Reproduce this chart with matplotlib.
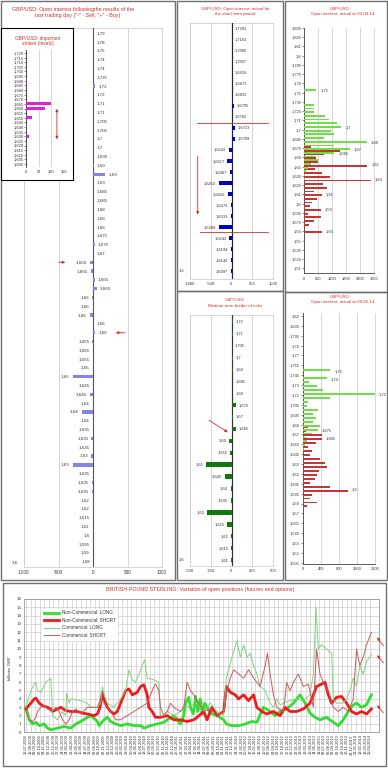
import matplotlib
matplotlib.use('Agg')
import matplotlib.pyplot as plt
from matplotlib.patches import Rectangle
import numpy as np
import pandas as pd

plt.rcParams['font.family'] = ['Liberation Sans', 'DejaVu Sans']
plt.rcParams['axes.unicode_minus'] = False

# ---------------- data ----------------
main_labels = ["1,79","1,78","1,75","1,74","1,74","1,735","1,72","1,72","1,71","1,71","1,705","1,705",
               "1,7","1,7","1,695","1,69","1,69","1,69","1,685","1,685","1,68","1,68","1,68","1,675",
               "1,675","1,67","1,665","1,665","1,665","1,665","1,66","1,66","1,66","1,66","1,66","1,655",
               "1,655","1,655","1,65","1,65","1,645","1,645","1,64","1,64","1,64","1,635","1,635","1,635",
               "1,63","1,63","1,625","1,625","1,625","1,62","1,62","1,615","1,61","1,6","1,595","1,59","1,58"]
main_vals = [3,3,3,3,3,5,35,4,3,3,3,3,3,4,3,15,180,3,3,3,3,3,3,3,30,3,-40,-25,30,55,-15,-3,-50,3,35,
             -10,-5,-5,-5,-295,-5,-50,-5,-165,-5,-5,-25,-5,-30,-295,-5,-15,-20,-5,-5,-3,-3,-3,-3,-3,-3]

inset_strikes = [1.720,1.715,1.710,1.705,1.700,1.695,1.690,1.685,1.680,1.675,1.670,1.665,1.660,
                 1.655,1.650,1.645,1.640,1.635,1.630,1.625,1.620,1.615,1.610,1.605,1.600]
inset_vals = [0,0,0,0,0,0,5,0,0,0,0,98,75,0,25,0,5,0,10,0,0,0,0,0,0]
inset_ticklabels = ["1,720","1,715","1,710","1,705","1,700","1,695","1,690","1,685","1,680","1,675",
                    "1,670","1,665","1,660","1,655","1,650","1,645","1,640","1,635","1,630","1,625",
                    "1,620","1,615","1,610","1,605","1,600"]

st_labels = ["1,7201","1,7103","1,7066","1,7007","1,6916","1,6873","1,6833","1,6795","1,6762","1,6733",
             "1,6709","1,6543","1,6517","1,6487","1,6453","1,6416","1,6376","1,6333","1,6288","1,6242",
             "1,6194","1,6146","1,6097"]
st_vals = [12,12,12,12,12,12,12,50,12,80,80,-55,-100,-30,-300,-90,-12,-12,-300,-50,-12,-12,-12]

mt_labels = ["1,72","1,71","1,705","1,7","1,69","1,685","1,68","1,675","1,67","1,665","1,66","1,655",
             "1,65","1,645","1,64","1,635","1,63","1,625","1,62","1,615","1,61"]
mt_vals = [15,15,10,15,15,12,12,55,15,50,-28,-15,-305,-80,-10,-8,-290,-49,-6,-6,-6]

oi1_strikes = [1.75,1.745,1.74,1.735,1.73,1.725,1.72,1.715,1.71,1.705,1.70,1.695,1.69,1.685,1.68,
               1.675,1.67,1.665,1.66,1.655,1.65,1.645,1.64,1.635,1.63,1.625,1.62,1.615,1.61,1.605,
               1.60,1.595,1.59,1.585,1.58,1.575,1.57,1.565,1.56]
oi1_calls = [530,0,0,0,430,430,430,900,1050,1400,1600,1150,1300,850,2700,1300,1950,1300,500,600,300,
             150,80,40,60,20,20,0,0,0,0,0,0,0,0,0,0,0,0]
oi1_puts = [0,0,0,0,0,0,0,0,0,0,0,0,0,0,0,320,1550,860,530,600,2720,450,780,1100,2850,800,1000,430,
            770,560,340,250,720,180,740,430,200,0,750]
oi1_ticklabels = ["1,835","1,825","1,81","1,8","1,785","1,775","1,76","1,75","1,735","1,725","1,71",
                  "1,7","1,685","1,675","1,66","1,65","1,635","1,625","1,61","1,6","1,585","1,575",
                  "1,56","1,55","1,535","1,525","1,51"]
oi1_lab_strikes = [1.75,1.70,1.68,1.67,1.665,1.65,1.63,1.61,1.59,1.56]
oi1_lab_text = ["1,75","1,7","1,68","1,67","1,665","1,65","1,63","1,61","1,59","1,56"]

oi2_strikes = [1.75,1.745,1.74,1.735,1.73,1.725,1.72,1.715,1.71,1.705,1.70,1.695,1.69,1.685,1.68,
               1.675,1.67,1.665,1.66,1.655,1.65,1.645,1.64,1.635,1.63,1.625,1.62,1.615,1.61,1.605,
               1.60,1.595,1.59,1.585,1.58]
oi2_calls = [607,0,533,140,310,460,1590,607,125,90,333,237,290,237,385,333,200,80,100,50,30,
             0,0,0,0,0,0,0,0,0,0,0,0,0,0]
oi2_puts = [0,0,0,0,0,0,0,0,0,0,0,0,0,0,120,80,420,420,300,120,200,160,380,500,530,350,310,270,160,
            600,1000,200,160,310,100]
oi2_ticklabels = ["1,82","1,805","1,795","1,78","1,77","1,755","1,745","1,73","1,72","1,705","1,695",
                  "1,68","1,67","1,655","1,645","1,63","1,62","1,605","1,595","1,58","1,57","1,555",
                  "1,545","1,53","1,52","1,505"]
oi2_lab_strikes = [1.75,1.74,1.72,1.675,1.665,1.60]
oi2_lab_text = ["1,75","1,74","1,72","1,675","1,665","1,6"]

# weekly series (x = weeks since 15.07.2008), billions GBP
ncl_w = [0,2.9,5.8,8.7,11.6,15.9,18.8,21.7,27.5,33.3,39.1,43.5,47.8,53.6,56.5,60.9,62.3,63.8,68.1,71,
         73.9,78.3,82.6,88.4,94.2,100,102.9,108.7,114.5,120.3,123.2,129,131.9,134.8,137.7,139.1,142,
         143.5,146,148,150,152,154,156,160.9,166.7,172.5,174.8,179.7,185.5,191.3,197.1,201.4,207.2,
         213,217.4,221.7,227.5,233.3,239.1,243.5,247.8,252.2,256.5,262.3,268.1,272.5,276.8,281.2,
         285.5,288.4,292.8,297.1,301.4]
ncl_v = [3.0,1.5,1.0,1.2,0.8,1.0,0.5,0.3,0.5,0.7,0.5,1.0,1.3,1.8,2.0,1.5,1.3,0.8,1.5,1.8,
         1.3,1.0,0.8,1.0,0.8,0.8,0.5,0.8,1.0,1.2,1.5,2.0,1.5,1.0,2.0,3.5,4.2,
         3.0,2.2,4.3,2.5,4.0,2.2,3.5,2.3,2.0,1.5,1.0,0.8,0.8,1.0,1.3,1.2,3.0,
         2.5,2.0,2.5,2.8,3.5,4.5,3.5,2.3,1.8,1.5,1.8,1.2,0.8,1.5,2.5,
         3.3,3.5,3.0,3.3,4.5]

ncs_w = [0,4.3,7.2,8.7,11.6,14.5,18.8,21.7,23.2,27.5,30.4,34.8,39.1,44.9,49.3,53.6,59.4,62.3,64.6,
         66.7,68.1,71,73.9,76.8,79.7,82.6,87,89.9,92.8,97.1,100,102.9,105.8,107.2,110.1,113,117.4,
         123.2,129,134.8,140.6,146.4,149.3,155.1,158,162.3,166.7,172.5,174.8,178.3,182.6,185.5,
         189.9,194.2,198.6,201.4,205.8,210.1,215.9,221.7,226.1,230.4,236.2,242,247.8,253.6,258,
         260.9,263.8,266.7,271,275.4,279.7,284.1,288.4,292.8,297.1,301.4]
ncs_v = [2.8,3.5,4.0,4.1,3.5,3.2,3.0,2.8,2.5,2.8,3.0,2.6,2.5,2.5,2.3,2.2,2.0,2.2,3.0,
         4.8,4.0,3.0,2.5,2.2,2.5,3.5,5.0,5.2,4.5,4.8,5.5,5.7,4.5,3.0,2.5,1.8,1.8,
         2.0,1.5,1.5,1.3,1.5,1.8,2.5,1.5,3.0,2.0,2.5,5.5,4.8,4.5,4.0,
         4.5,3.8,4.5,3.0,2.5,2.2,2.5,2.0,3.0,2.5,2.5,2.8,3.5,5.5,5.8,
         6.0,4.5,3.5,4.2,4.3,3.5,2.5,2.2,2.5,2.2,2.8]

cl_w = [0,4.3,7.2,8.7,10.1,13,17.4,21.7,23.2,27.5,31.9,34.8,35.4,37.7,39.1,47.8,53.6,56.5,62.3,65.2,
        66.7,68.1,71,76.8,82.6,87,89.9,92.8,95.7,97.1,100,102.9,103.5,105.8,111.6,115.9,117.4,
        120.3,123.2,129,134.8,137.7,143.5,149.3,155.1,160.9,166.7,172.5,174.8,176.8,179.7,184.1,
        187,189.9,192.8,195.7,198.6,201.4,204.3,208.7,213,215.9,218.8,221.7,224.6,230.4,236.2,
        242,247.8,250.7,253,255.1,258,262.3,266.7,268.1,271,276.8,279.7,282.6,285.5,288.4,291.3,
        294.2,297.1,301.4]
cl_v = [3.0,5.0,5.8,6.0,5.0,4.8,6.0,6.5,2.0,1.5,2.5,2.0,4.7,3.5,4.0,3.8,3.5,3.0,3.0,3.5,
        5.5,4.5,3.5,3.0,4.0,5.0,7.5,6.3,6.0,6.5,7.5,8.5,8.7,6.5,6.3,6.0,2.0,
        2.0,2.5,2.0,2.5,3.0,3.2,3.5,2.5,3.5,2.5,2.0,6.5,7.5,9.0,11.0,
        9.0,10.5,9.0,9.5,8.0,7.0,5.5,5.0,3.5,3.0,4.0,3.3,3.5,3.8,4.0,
        3.8,4.5,7.0,15.0,10.0,10.5,10.0,9.5,4.0,3.5,3.5,4.0,5.0,6.5,5.5,8.0,
        7.0,8.5,9.3]

cs_w = [0,2.9,5.8,8.7,10.1,13,15.9,18.8,23.2,26.1,29,31.9,34.8,37.7,40.6,43.5,47.8,53.6,62.3,65.2,
        68.1,73.9,78.3,82.6,88.4,94.2,100,105.8,111.6,113,115.9,117.4,120.3,123.2,126.1,129,134.8,
        137.7,140.6,143.5,146.4,149.3,155.1,160.9,166.7,172.5,175.4,178.3,181.2,185.5,189.9,194.2,
        198.6,204.3,208.7,210.7,213,215.9,218.8,224.6,227.5,230.4,233.3,237.7,242,246.4,250.7,
        253.6,256.5,259.4,263.8,268.1,272.5,276.8,281.2,285.5,288.4,291.3,294.2,297.1,301.4]
cs_v = [2.5,1.5,1.3,1.8,2.5,3.0,3.2,2.8,2.5,3.0,2.5,1.5,1.0,1.5,2.5,2.8,2.2,3.0,3.0,4.0,
        3.5,2.5,1.5,1.5,2.0,2.5,3.0,3.5,5.5,5.8,5.0,3.0,2.0,2.5,3.5,3.0,2.5,
        3.0,6.0,5.0,4.5,3.8,2.5,2.8,2.0,2.5,5.0,6.5,7.5,7.0,6.5,7.5,
        6.5,5.5,8.0,9.5,7.0,4.5,3.0,2.5,6.0,5.0,6.0,7.0,5.5,5.8,3.0,
        10.0,7.0,6.0,5.0,3.0,2.5,3.0,2.5,4.0,10.0,8.0,9.0,10.5,12.0]

date_ticks_w = list(range(0, 301, 4))
date_labels = pd.date_range('2008-07-15', periods=len(date_ticks_w), freq='28D').strftime('%d.%m.%Y')

# ---------------- helpers ----------------
W, H = 388, 768
fig = plt.figure(figsize=(W / 100, H / 100), dpi=100)
fig.patch.set_facecolor('white')
RED = '#d03030'
TXT = '#333333'


def add_ax(x0, y0, x1, y1):
    return fig.add_axes([x0 / W, 1 - y1 / H, (x1 - x0) / W, (y1 - y0) / H])


def fp(x, y):
    return (x / W, 1 - y / H)


def box(x0, y0, x1, y1, ec='#808080', lw=0.8, fc=None, z=0.5):
    fig.add_artist(Rectangle(fp(x0, y1), (x1 - x0) / W, (y1 - y0) / H, transform=fig.transFigure,
                             fill=fc is not None, fc=fc if fc else 'none', ec=ec, lw=lw, zorder=z))


def ftext(x, y, s, **kw):
    kw.setdefault('ha', 'center')
    kw.setdefault('va', 'center')
    fig.text(x / W, 1 - y / H, s, **kw)


def farrow(x0, y0, x1, y1, style='-|>'):
    fig.add_artist(matplotlib.patches.FancyArrowPatch(fp(x0, y0), fp(x1, y1), transform=fig.transFigure,
                                                      arrowstyle=style, color=RED, lw=0.6,
                                                      mutation_scale=4, zorder=20))


def bar_labels(ax, vals, labels, fs, off=2.0):
    for r, (v, l) in enumerate(zip(vals, labels)):
        if v >= 0:
            ax.annotate(l, (v, r), xytext=(off, 0), textcoords='offset points', ha='left', va='center',
                        fontsize=fs, color=TXT, annotation_clip=False)
        else:
            ax.annotate(l, (v, r), xytext=(-off, 0), textcoords='offset points', ha='right', va='center',
                        fontsize=fs, color=TXT, annotation_clip=False)


def style_hbar(ax, ticks, fs):
    ax.set_xticks(ticks)
    ax.set_yticks([])
    ax.grid(axis='x', color='#cfcfcf', lw=0.6)
    ax.set_axisbelow(True)
    for sp in ax.spines.values():
        sp.set_color('#cfcfcf')
        sp.set_linewidth(0.6)
    ax.tick_params(axis='x', length=0, labelsize=fs, pad=2.5, colors=TXT)
    ax.axvline(0, color='#555555', lw=0.8, zorder=3)

# ---------------- panel borders ----------------
box(1, 1, 175, 580, ec='#707070', lw=1.0)
box(177, 1, 283, 291, ec='#707070', lw=1.0)
box(177, 291, 283, 580, ec='#707070', lw=1.0)
box(285, 1, 387, 292, ec='#707070', lw=1.0)
box(285, 292, 387, 580, ec='#707070', lw=1.0)
box(3, 583, 386, 766, ec='#707070', lw=1.0)

# ---------------- big left panel ----------------
ftext(73, 9.5, 'GBP/USD: Open interest followingthe results of the', color=RED, fontsize=3.9)
ftext(78, 15.5, 'last trading day ("-" - Sell, "+" - Buy)', color=RED, fontsize=3.9)
axm = add_ax(24, 28, 162, 567)
axm.barh(np.arange(len(main_vals)), main_vals, height=0.38, color='#8585e6', zorder=4)
axm.set_xlim(-1000, 1000)
axm.set_ylim(60.6, -0.6)
style_hbar(axm, [-1000, -500, 0, 500, 1000], 3.3)
bar_labels(axm, main_vals, main_labels, 3.2, 2.2)
ftext(15, 563, '1,6', fontsize=3.2, color=TXT)
axm.annotate('', xy=(-362, 26), xytext=(-536, 26),
             arrowprops=dict(arrowstyle='-|>', color=RED, lw=0.6, mutation_scale=4))
axm.annotate('', xy=(290, 34), xytext=(507, 34),
             arrowprops=dict(arrowstyle='-|>', color=RED, lw=0.6, mutation_scale=4))

# inset
box(1, 28, 73, 180, ec='black', lw=0.8, fc='white', z=5)
ftext(38, 38.5, 'GBP/USD: important', color=RED, fontsize=3.5, zorder=7)
ftext(38, 44, 'strikes (levels)', color=RED, fontsize=3.5, zorder=7)
axi = add_ax(26, 50, 64, 167)
axi.set_zorder(6)
axi.patch.set_alpha(0)
axi.barh(inset_strikes, inset_vals, height=0.003, color='#dd22dd', zorder=4)
axi.set_xlim(0, 150)
axi.set_ylim(1.5968, 1.7232)
axi.set_yticks(inset_strikes)
axi.set_yticklabels(inset_ticklabels)
axi.set_xticks([0, 50, 100, 150])
axi.grid(axis='x', color='#cfcfcf', lw=0.6)
axi.set_axisbelow(True)
for k in ['top', 'right', 'bottom']:
    axi.spines[k].set_visible(False)
axi.spines['left'].set_color('#333333')
axi.spines['left'].set_linewidth(0.6)
axi.tick_params(axis='y', length=1.2, width=0.4, labelsize=2.9, pad=0.8, colors=TXT)
axi.tick_params(axis='x', length=0, labelsize=2.9, pad=2.5, colors=TXT)
axi.annotate('', xy=(122, 1.6238), xytext=(122, 1.6627),
             arrowprops=dict(arrowstyle='<|-|>', color=RED, lw=0.6, mutation_scale=4))

# ---------------- panel 2: short term ----------------
ftext(235, 9.3, 'GBP/USD: Open interest, actual for', color=RED, fontsize=3.2)
ftext(235, 14.3, 'the short-term period', color=RED, fontsize=3.2)
ax2 = add_ax(190, 23, 273, 279)
ax2.barh(np.arange(len(st_vals)), st_vals, height=0.36, color='#0000cc', zorder=4)
ax2.set_xlim(-1000, 1000)
ax2.set_ylim(22.7, -0.52)
style_hbar(ax2, [-1000, -500, 0, 500, 1000], 3.0)
ax2.axvline(0, color='#222244', lw=0.8, zorder=3)
bar_labels(ax2, st_vals, st_labels, 2.9, 2.0)
ax2.plot([-830, 880], [8.52, 8.52], color=RED, lw=0.6, zorder=5)
ax2.plot([-760, 880], [18.43, 18.43], color=RED, lw=0.6, zorder=5)
ax2.annotate('', xy=(-814, 17.1), xytext=(-814, 11.3),
             arrowprops=dict(arrowstyle='-|>', color=RED, lw=0.6, mutation_scale=4))
ftext(182, 271, '1,6', fontsize=3.0, color=TXT)

# ---------------- panel 3: medium term ----------------
ftext(235, 300, 'GBP/USD', color=RED, fontsize=3.2)
ftext(235, 306, 'Medium-term border of risks', color=RED, fontsize=3.2)
ax3 = add_ax(190, 315, 273, 566)
ax3.barh(np.arange(len(mt_vals)), mt_vals, height=0.38, color='#117711', zorder=4)
ax3.set_xlim(-500, 500)
ax3.set_ylim(20.5, -0.56)
style_hbar(ax3, [-500, -250, 0, 250, 500], 3.0)
ax3.axvline(0, color='#333333', lw=0.8, zorder=3)
bar_labels(ax3, mt_vals, mt_labels, 2.9, 2.0)
ax3.annotate('', xy=(-17, 9.4), xytext=(-299, 8.15),
             arrowprops=dict(arrowstyle='-|>', color=RED, lw=0.6, mutation_scale=4))
ftext(182, 560, '1,6', fontsize=3.0, color=TXT)


# ---------------- panels 4 & 5: open interest by strike ----------------
def oi_panel(ax, strikes, calls, puts, tickpos, ticklabels, lab_s, lab_t, xmax, xticks, ylim):
    s = np.array(strikes)
    ax.barh(s - 0.00115, puts, height=0.0024, color='#cc3333', zorder=4)
    ax.barh(s + 0.00115, calls, height=0.0024, color='#72dd4c', zorder=4)
    ax.set_xlim(0, xmax)
    ax.set_ylim(*ylim)
    ax.set_yticks(tickpos)
    ax.set_yticklabels(ticklabels)
    ax.set_xticks(xticks)
    ax.grid(axis='x', color='#cfcfcf', lw=0.6)
    ax.set_axisbelow(True)
    ax.spines['top'].set_visible(False)
    ax.spines['right'].set_color('#cfcfcf')
    ax.spines['right'].set_linewidth(0.6)
    for k in ['left', 'bottom']:
        ax.spines[k].set_color('#444444')
        ax.spines[k].set_linewidth(0.6)
    ax.tick_params(axis='y', length=1.2, width=0.4, labelsize=2.9, pad=0.8, colors=TXT)
    ax.tick_params(axis='x', length=0, labelsize=2.9, pad=2.5, colors=TXT)
    cd = dict(zip(strikes, calls))
    pdict = dict(zip(strikes, puts))
    for st, t in zip(lab_s, lab_t):
        v = max(cd[st], pdict[st])
        ax.annotate(t, (v, st), xytext=(3, 0), textcoords='offset points', ha='left', va='center',
                    fontsize=2.9, color=TXT, annotation_clip=False)


ftext(340, 9.3, 'GBP/USD', color=RED, fontsize=3.2)
ftext(343, 14.3, 'Open interest, actual to 04.04.14', color=RED, fontsize=3.2)
ax4 = add_ax(304, 28, 374, 273.3)
oi_panel(ax4, oi1_strikes, oi1_calls, oi1_puts, np.linspace(1.835, 1.51, len(oi1_ticklabels)),
         oi1_ticklabels, oi1_lab_strikes, oi1_lab_text, 3000, [0, 600, 1200, 1800, 2400, 3000],
         (1.5032, 1.835))

ftext(340, 297, 'GBP/USD', color=RED, fontsize=3.2)
ftext(343, 302.3, 'Open interest, actual to 09.05.14', color=RED, fontsize=3.2)
ax5 = add_ax(302.7, 313, 375, 564)
oi_panel(ax5, oi2_strikes, oi2_calls, oi2_puts, np.linspace(1.82, 1.5075, len(oi2_ticklabels)),
         oi2_ticklabels, oi2_lab_strikes, oi2_lab_text, 1600, [0, 400, 800, 1200, 1600],
         (1.5059, 1.8238))

# ---------------- bottom chart ----------------
ftext(200, 589.5, 'BRITISH POUND STERLING: Variation of open positions (futures and options)',
      color=RED, fontsize=3.9)
axb = add_ax(24, 599, 379, 732.3)
axb.plot(ncl_w, ncl_v, color='#33dd33', lw=2.0, label='Non-Commercial: LONG', zorder=3)
axb.plot(ncs_w, ncs_v, color='#ee1c1c', lw=2.0, label='Non-Commercial: SHORT', zorder=4)
axb.plot(cl_w, cl_v, color='#7fd37f', lw=0.7, label='Commercial: LONG', zorder=5)
axb.plot(cs_w, cs_v, color='#c85a5a', lw=0.7, label='Commercial: SHORT', zorder=6)
axb.set_xlim(-1.7, 308)
axb.set_ylim(0, 16)
axb.set_yticks(range(0, 17))
axb.set_xticks(date_ticks_w)
axb.set_xticklabels(date_labels, rotation=90)
axb.grid(True, color='#cccccc', lw=0.5)
axb.set_axisbelow(True)
for sp in axb.spines.values():
    sp.set_color('#999999')
    sp.set_linewidth(0.6)
axb.tick_params(axis='y', length=0, labelsize=3.2, pad=2, colors=TXT)
axb.tick_params(axis='x', length=0, labelsize=2.9, pad=1.5, colors=TXT)
ftext(10, 668, 'billions GBP', rotation=90, fontsize=3.2, color=TXT)
leg = axb.legend(loc='upper left', bbox_to_anchor=(0.045, 0.945), fontsize=3.3, frameon=True,
                 handlelength=3.3, labelspacing=0.55, borderpad=0.4, handletextpad=0.5,
                 fancybox=False, edgecolor='white', framealpha=1)
for t in leg.get_texts():
    t.set_color(TXT)
farrow(385, 648, 375.5, 635)
farrow(385, 665, 375.5, 653)
farrow(385, 715, 375.5, 703)

fig.savefig('out.png', dpi=100, facecolor='white')
